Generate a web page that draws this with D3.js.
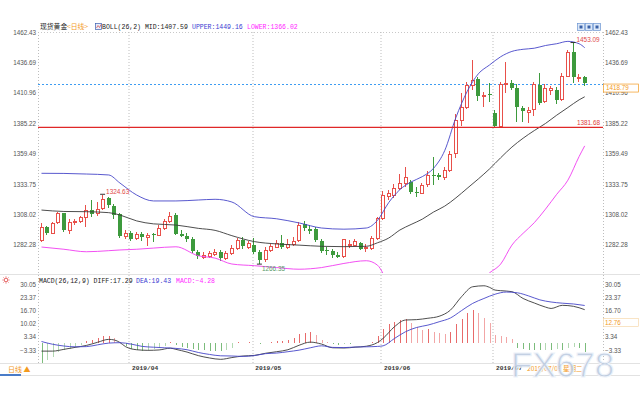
<!DOCTYPE html>
<html>

<head>
  <meta charset="utf-8">
  <title>现货黄金 日线</title>
  <style>
    body { margin: 0; background: #fff; }
    svg { display: block; }
  </style>
</head>

<body>

  <script src="https://d3js.org/d3.v7.min.js" charset="utf-8"></script>
  <script type="text/javascript">
    // trading days shown on the chart: 2019-03-08 .. 2019-07-23 (weekdays)
    var dates = d3.timeDay.range(new Date(2019, 2, 8), new Date(2019, 6, 24))
      .filter(function(d) { return d.getDay() != 0 && d.getDay() != 6; });

    var opens = [1285.8, 1297.5, 1292.5, 1300.9, 1308.8, 1294.8, 1301.6, 1302.6, 1305.6, 1311.7,
      1309.0, 1313.2, 1321.5, 1315.5, 1308.4, 1290.0, 1292.0, 1287.5, 1291.2, 1289.0,
      1291.0, 1291.2, 1296.8, 1302.4, 1307.5, 1291.5, 1289.9, 1287.0, 1276.5, 1272.2,
      1272.8, 1275.1, 1276.0, 1271.0, 1275.5, 1279.5, 1286.0, 1280.0, 1282.0, 1276.5,
      1269.5, 1278.0, 1280.7, 1284.0, 1280.2, 1282.7, 1286.4, 1299.5, 1296.0, 1295.4,
      1285.8, 1278.0, 1277.3, 1274.0, 1272.8, 1282.0, 1282.7, 1283.5, 1279.3, 1279.3,
      1287.8, 1305.0, 1323.0, 1324.4, 1330.1, 1334.4, 1335.7, 1327.0, 1326.4, 1333.8,
      1341.4, 1341.4, 1339.4, 1345.6, 1359.7, 1387.9, 1399.2, 1417.6, 1422.4, 1408.5,
      1410.0, 1394.1, 1383.0, 1418.4, 1419.5, 1414.8, 1397.8, 1395.0, 1397.0, 1417.6,
      1403.4, 1413.5, 1413.3, 1405.8, 1425.4, 1445.8, 1423.8, 1424.1];
    var highs = [1300.5, 1298.5, 1302.0, 1310.3, 1309.5, 1304.2, 1304.5, 1307.0, 1316.0, 1320.0,
      1318.5, 1324.63, 1322.5, 1317.0, 1309.0, 1295.0, 1294.0, 1293.0, 1293.5, 1292.5,
      1292.5, 1299.0, 1304.0, 1310.3, 1309.0, 1294.5, 1292.0, 1288.5, 1278.0, 1276.5,
      1277.0, 1279.0, 1278.0, 1277.0, 1282.5, 1288.0, 1289.0, 1285.5, 1288.0, 1278.0,
      1280.5, 1283.0, 1286.0, 1290.6, 1287.0, 1289.0, 1302.0, 1302.4, 1299.0, 1297.0,
      1287.0, 1280.5, 1278.5, 1276.0, 1287.5, 1286.0, 1287.0, 1285.0, 1283.0, 1290.0,
      1306.0, 1328.0, 1328.7, 1334.0, 1342.0, 1348.4, 1337.0, 1331.0, 1335.0, 1345.0,
      1356.9, 1343.0, 1348.0, 1362.0, 1393.0, 1411.0, 1420.0, 1438.7, 1424.5, 1411.9,
      1419.0, 1396.0, 1420.5, 1437.3, 1421.8, 1418.5, 1400.0, 1399.0, 1420.0, 1427.5,
      1418.0, 1416.5, 1416.0, 1428.0, 1447.0, 1453.09, 1427.0, 1425.0];
    var lows = [1284.5, 1290.8, 1291.5, 1300.0, 1293.5, 1291.4, 1299.0, 1300.5, 1297.0, 1306.0,
      1307.0, 1311.5, 1313.5, 1304.5, 1288.2, 1287.0, 1285.5, 1286.0, 1285.5, 1281.0,
      1285.0, 1289.5, 1295.0, 1301.0, 1290.5, 1288.5, 1285.0, 1275.0, 1270.5, 1270.5,
      1271.5, 1273.0, 1268.5, 1269.5, 1273.5, 1278.0, 1278.5, 1279.0, 1274.5, 1266.35,
      1267.5, 1276.5, 1279.5, 1278.5, 1279.0, 1281.5, 1285.0, 1294.0, 1291.0, 1284.5,
      1275.5, 1274.0, 1270.9, 1271.0, 1271.5, 1279.5, 1281.0, 1277.5, 1276.0, 1277.5,
      1286.5, 1303.5, 1320.2, 1322.0, 1328.5, 1331.0, 1325.5, 1323.0, 1325.0, 1331.0,
      1332.9, 1337.5, 1337.0, 1343.5, 1356.0, 1383.0, 1397.0, 1413.0, 1404.0, 1399.2,
      1403.4, 1381.68, 1382.0, 1410.5, 1413.0, 1386.5, 1386.5, 1385.1, 1391.0, 1400.5,
      1402.0, 1409.0, 1401.5, 1404.0, 1424.0, 1419.0, 1420.5, 1416.5];
    var closes = [1297.1, 1292.5, 1300.9, 1308.8, 1294.8, 1301.9, 1302.6, 1305.6, 1311.5, 1308.4,
      1312.3, 1320.8, 1315.5, 1308.0, 1289.5, 1292.2, 1287.0, 1291.0, 1289.0, 1290.5,
      1290.0, 1296.8, 1302.5, 1307.0, 1291.5, 1289.5, 1287.0, 1276.5, 1272.8, 1273.6,
      1275.6, 1276.5, 1270.5, 1275.5, 1279.5, 1286.0, 1280.5, 1283.5, 1276.0, 1269.5,
      1277.5, 1281.3, 1284.1, 1281.0, 1282.7, 1285.5, 1299.1, 1296.0, 1294.5, 1286.0,
      1277.1, 1277.5, 1273.6, 1272.5, 1287.0, 1283.0, 1285.8, 1278.7, 1280.2, 1287.8,
      1304.7, 1324.4, 1325.9, 1330.1, 1334.4, 1339.4, 1327.2, 1326.5, 1332.9, 1341.4,
      1340.5, 1339.4, 1345.6, 1358.9, 1387.9, 1399.2, 1417.6, 1421.8, 1408.3, 1409.2,
      1409.0, 1383.0, 1418.4, 1419.0, 1415.6, 1398.7, 1395.0, 1396.4, 1418.4, 1402.6,
      1414.8, 1415.0, 1404.9, 1425.4, 1445.8, 1424.6, 1424.6, 1418.79];

    // BOLL(26,2) at these candles
    var bollIdx = [0, 4, 8, 12, 14, 17, 20, 24, 28, 31, 34, 38, 42, 46, 50, 54, 58, 60, 62,
      64, 66, 68, 70, 72, 74, 76, 78, 80, 82, 84, 86, 88, 90, 92, 94, 96, 97];
    var bollUpper = [1342.8, 1342.7, 1342.2, 1341.4, 1334.6, 1324.4, 1319.4, 1319.4, 1320.2, 1320.8,
      1318.5, 1306.1, 1304.3, 1300.8, 1296.5, 1295.5, 1296.5, 1303.0, 1318.0,
      1329.0, 1335.5, 1340.0, 1347.0, 1362.0, 1390.0, 1412.0, 1427.0, 1434.5, 1441.5,
      1446.0, 1447.8, 1448.7, 1451.0, 1452.5, 1454.5, 1452.5, 1449.16];
    var bollMid = [1311.7, 1310.5, 1310.3, 1309.5, 1307.5, 1302.5, 1300.0, 1299.0, 1296.2, 1294.5,
      1290.0, 1285.0, 1283.0, 1282.0, 1281.0, 1280.7, 1281.0, 1284.0, 1288.0,
      1294.8, 1299.5, 1304.0, 1310.0, 1315.0, 1322.0, 1330.0, 1338.0, 1346.5, 1356.0,
      1365.0, 1372.5, 1379.0, 1385.0, 1392.0, 1398.5, 1405.0, 1407.59];
    var bollLower = [1280.4, 1278.5, 1276.4, 1277.3, 1277.9, 1278.5, 1279.5, 1280.6, 1273.0, 1271.0,
      1266.0, 1264.6, 1263.0, 1261.6, 1263.0, 1266.5, 1268.8, 1265.0, 1250.0,
      1244.0, 1240.0, 1238.0, 1236.0, 1236.0, 1238.0, 1242.0, 1250.0, 1258.5, 1266.0,
      1282.0, 1292.0, 1301.0, 1312.5, 1325.0, 1337.0, 1357.0, 1366.02];

    // MACD(26,12,9)
    var diffIdx = [0, 2, 4, 6, 8, 10, 12, 13, 14, 15, 17, 19, 21, 23, 24, 26, 28, 30, 32, 34,
      36, 38, 40, 42, 44, 46, 48, 50, 52, 54, 56, 58, 60, 61, 63, 65, 67, 69, 71, 73,
      75, 77, 79, 80, 81, 82, 84, 86, 88, 90, 91, 93, 95, 97];
    var diffVals = [-3.9, -3.9, -3.0, -2.0, -1.0, 0.6, 2.1, 1.8, 0.5, -1.6, -3.2, -3.5, -3.3, -2.4, -3.0, -4.4, -6.2, -7.4, -8.1, -7.2,
      -6.4, -6.1, -5.0, -4.2, -3.2, -0.9, 0.7, -0.3, -2.2, -2.3, -1.9, -1.4, 0.5, 2.6, 8.5, 12.0, 12.2, 12.9, 13.9, 17.0,
      23.9, 29.0, 29.5, 28.7, 27.3, 27.0, 26.5, 23.0, 20.7, 18.6, 17.9, 19.5, 19.0, 17.29];
    var deaIdx = [0, 2, 4, 6, 8, 10, 12, 14, 16, 18, 20, 22, 24, 26, 28, 30, 32, 34, 36, 38,
      40, 42, 44, 46, 48, 50, 52, 54, 56, 58, 60, 61, 63, 65, 67, 69, 71, 73, 75, 77,
      79, 81, 83, 85, 87, 89, 91, 93, 95, 97];
    var deaVals = [1.0, -0.4, -1.3, -1.7, -1.6, -0.7, 0.2, 0.4, -0.3, -1.5, -1.9, -2.2, -2.5, -3.2, -4.6, -5.6, -6.3, -6.4, -6.6, -6.2,
      -5.2, -4.9, -4.2, -3.4, -2.2, -1.2, -2.0, -2.1, -1.8, -1.7, -1.5, -1.2, 2.5, 6.0, 8.2, 9.4, 11.1, 13.0, 16.8, 20.5,
      23.0, 25.2, 26.3, 25.9, 24.3, 22.3, 21.2, 20.6, 20.2, 19.43];
    var macdBars = [-9.8, -8.4, -6.8, -4.6, -3.4, -2.6, -1.8, -0.8, 1.2, 2.0,
      2.6, 3.6, 3.8, 3.0, 1.0, -1.5, -2.6, -3.2, -3.6, -3.4,
      -3.0, -2.2, -1.2, 0.8, -1.0, -1.6, -2.2, -3.0, -3.2, -3.4,
      -3.6, -3.6, -4.0, -3.2, -2.4, 0.6, 0.4, 0.8, 0.2, -0.3,
      0.4, 0.9, 1.4, 1.5, 1.9, 2.6, 5.0, 5.6, 5.9, 4.3,
      1.8, 0.9, -0.3, -0.6, -0.4, -0.5, 0.3, 0.4, 0.5, 1.0,
      3.8, 7.5, 9.9, 11.1, 12.0, 12.3, 10.6, 8.3, 6.9, 7.2,
      6.0, 5.2, 4.9, 6.0, 9.8, 12.3, 15.4, 17.1, 15.4, 12.9,
      10.3, 4.3, 3.8, 3.5, 2.1, -2.5, -3.0, -3.5, -3.5, -3.5,
      -3.4, -3.5, -3.0, -3.5, -2.5, -2.0, -2.5, -4.28];

    var priceTicks = [1462.43, 1436.69, 1410.96, 1385.22, 1359.49, 1333.75, 1308.02, 1282.28];
    var macdTicks = [30.05, 23.37, 16.70, 10.02, 3.34, -3.33];
    var lastPrice = 1418.79;
    var markLine = 1381.68;
    var macdCursor = 12.76;

    var width = 640, height = 400;
    var left = 38, right = 603;
    var red = "#e8504a", green = "#3d9a3d", blue = "#4646c8", magenta = "#f03cf0", orange = "#f39a1e";
    var mono = '"Liberation Mono", "DejaVu Sans Mono", monospace';
    var cjk = '"Noto Sans CJK SC", sans-serif';

    var svg = d3.select('body')
      .append("svg")
      .attr("width", width)
      .attr("height", height)
      .style("font-family", '"Liberation Sans", Arial, sans-serif');

    var x = d3.scaleBand().domain(d3.range(dates.length)).range([38.7, 38.7 + dates.length * 5.6]);
    function cx(i) { return x(i) + x.bandwidth() / 2; }
    var yP = d3.scaleLinear().domain([1282.28, 1462.43]).range([244.8, 32]);
    var yM = d3.scaleLinear().domain([-3.33, 30.05]).range([350, 284.7]);

    var defs = svg.append("defs");
    defs.append("clipPath").attr("id", "clipP").append("rect")
      .attr("x", left).attr("y", 32).attr("width", right - left).attr("height", 241);
    defs.append("clipPath").attr("id", "clipM").append("rect")
      .attr("x", left).attr("y", 276).attr("width", right - left).attr("height", 87);

    // frame + separators
    svg.append("line").attr("x1", left).attr("x2", right).attr("y1", 32.5).attr("y2", 32.5)
      .attr("stroke", "#c8c8c8").attr("stroke-dasharray", "1,2");
    [274.5, 363.5, 375.5].forEach(function(yy) {
      svg.append("line").attr("x1", 0).attr("x2", width).attr("y1", yy).attr("y2", yy)
        .attr("stroke", "#e2e2e2");
    });
    svg.append("rect").attr("x", 0).attr("y", 374).attr("width", 21).attr("height", 2).attr("fill", "#4a7cc8");

    var monthIdx = d3.range(1, dates.length).filter(function(i) {
      return dates[i].getMonth() != dates[i - 1].getMonth();
    });
    var gridX = [left].concat(monthIdx.map(function(i) { return Math.round(x(i)) + 0.5; })).concat([right]);
    svg.selectAll("line.vgrid").data(gridX).enter().append("line")
      .attr("class", "vgrid")
      .attr("x1", function(d) { return d + 0.5; }).attr("x2", function(d) { return d + 0.5; })
      .attr("y1", 32).attr("y2", 363)
      .attr("stroke", "#bdbdbd").attr("stroke-dasharray", "1,2");

    // axes
    var fmt2 = d3.format(".2f");
    function styleAxis(g) {
      g.select(".domain").remove();
      g.selectAll("text").attr("fill", "#555").style("font-size", "6.3px");
    }
    svg.append("g").attr("transform", "translate(" + left + ",0)")
      .call(d3.axisLeft(yP).tickValues(priceTicks).tickFormat(fmt2).tickSize(0).tickPadding(2))
      .call(styleAxis);
    svg.append("g").attr("transform", "translate(" + right + ",0)")
      .call(d3.axisRight(yP).tickValues(priceTicks).tickFormat(fmt2).tickSize(0).tickPadding(2))
      .call(styleAxis);
    svg.append("g").attr("transform", "translate(" + left + ",0)")
      .call(d3.axisLeft(yM).tickValues(macdTicks).tickFormat(fmt2).tickSize(0).tickPadding(2))
      .call(styleAxis);
    // on the right the 10.02 label sits under the cursor value box
    svg.append("g").attr("transform", "translate(" + right + ",0)")
      .call(d3.axisRight(yM).tickValues(macdTicks.filter(function(t) { return t != 10.02; }))
        .tickFormat(fmt2).tickSize(0).tickPadding(2))
      .call(styleAxis);

    var monthFmt = d3.timeFormat("%Y/%m");
    svg.append("g").attr("transform", "translate(0,363)")
      .call(d3.axisBottom(x).tickValues(monthIdx).tickFormat(function(i) { return monthFmt(dates[i]); })
        .tickSize(0).tickPadding(3))
      .call(function(g) {
        g.select(".domain").remove();
        g.selectAll("text").attr("text-anchor", "start").attr("x", 1)
          .attr("fill", "#333").style("font-family", mono).style("font-weight", "bold").style("font-size", "6.2px");
      });

    // price panel
    var gP = svg.append("g").attr("clip-path", "url(#clipP)");

    gP.append("line").attr("x1", left).attr("x2", right)
      .attr("y1", Math.round(yP(lastPrice)) + 0.5).attr("y2", Math.round(yP(lastPrice)) + 0.5)
      .attr("stroke", "#3d9cf2").attr("stroke-dasharray", "2,2").attr("shape-rendering", "crispEdges");

    var candles = dates.map(function(d, i) {
      return { i: i, o: opens[i], h: highs[i], l: lows[i], c: closes[i] };
    });
    var cg = gP.selectAll("g.candle").data(candles).enter().append("g")
      .attr("class", "candle").attr("shape-rendering", "crispEdges");
    cg.append("line")
      .attr("x1", function(d) { return Math.round(cx(d.i) - 2) + 1.5; })
      .attr("x2", function(d) { return Math.round(cx(d.i) - 2) + 1.5; })
      .attr("y1", function(d) { return yP(d.h); })
      .attr("y2", function(d) { return yP(d.l); })
      .attr("stroke", function(d) { return d.c >= d.o ? red : green; });
    cg.append("rect")
      .attr("x", function(d) { var r = Math.round(cx(d.i) - 2); return d.c >= d.o ? r + 0.5 : r; })
      .attr("y", function(d) { return Math.round(yP(Math.max(d.o, d.c))) + (d.c >= d.o ? 0.5 : 0); })
      .attr("width", function(d) { return d.c >= d.o ? 3 : 4; })
      .attr("height", function(d) { return Math.max(1, Math.round(Math.abs(yP(d.o) - yP(d.c)))); })
      .attr("fill", function(d) { return d.c >= d.o ? "#fff" : green; })
      .attr("stroke", function(d) { return d.c >= d.o ? red : "none"; });

    var bandLine = d3.line()
      .x(function(d) { return cx(d.i); })
      .y(function(d) { return yP(d.v); })
      .curve(d3.curveMonotoneX);
    function pts(idx, vals) { return idx.map(function(i, k) { return { i: i, v: vals[k] }; }); }
    gP.append("path").datum(pts(bollIdx, bollMid)).attr("d", bandLine)
      .attr("fill", "none").attr("stroke", "#3a3a3a").attr("stroke-width", 0.9);
    gP.append("path").datum(pts(bollIdx, bollUpper)).attr("d", bandLine)
      .attr("fill", "none").attr("stroke", blue).attr("stroke-width", 0.9);
    gP.append("path").datum(pts(bollIdx, bollLower)).attr("d", bandLine)
      .attr("fill", "none").attr("stroke", magenta).attr("stroke-width", 0.9);

    // marked level
    svg.append("line").attr("x1", left).attr("x2", right)
      .attr("y1", yP(markLine)).attr("y2", yP(markLine))
      .attr("stroke", "#e02828").attr("stroke-width", 1.4);
    svg.append("text").attr("x", 600).attr("y", yP(markLine) - 2).attr("text-anchor", "end")
      .attr("fill", "#e04040").style("font-size", "6.4px").text(fmt2(markLine));

    // high / low marks
    var hiIdx = [11, 95], loIdx = [39];
    hiIdx.forEach(function(i) {
      svg.append("line").attr("x1", cx(i) - 3).attr("x2", cx(i) + 2).attr("y1", yP(highs[i]) - 0.5).attr("y2", yP(highs[i]) - 0.5)
        .attr("stroke", "#333");
      svg.append("text").attr("x", cx(i) + 3).attr("y", yP(highs[i]) - 1)
        .attr("fill", "#e04848").style("font-size", "6.4px").text(fmt2(highs[i]));
    });
    loIdx.forEach(function(i) {
      svg.append("line").attr("x1", cx(i) - 3).attr("x2", cx(i) + 2).attr("y1", yP(lows[i]) + 0.5).attr("y2", yP(lows[i]) + 0.5)
        .attr("stroke", "#333");
      svg.append("text").attr("x", cx(i) + 2).attr("y", yP(lows[i]) + 7)
        .attr("fill", "#5a9a6a").style("font-size", "6.4px").text(fmt2(lows[i]));
    });

    // last price box
    svg.append("rect").attr("x", 603.5).attr("y", yP(lastPrice) + 0.5).attr("width", 35).attr("height", 8)
      .attr("fill", "#fff").attr("stroke", orange).attr("stroke-width", 0.7);
    svg.append("text").attr("x", 606).attr("y", yP(lastPrice) + 6.8)
      .attr("fill", orange).style("font-size", "6.3px").text(fmt2(lastPrice));

    // MACD panel
    var gM = svg.append("g").attr("clip-path", "url(#clipM)");
    gM.selectAll("line.bar").data(macdBars).enter().append("line")
      .attr("class", "bar").attr("shape-rendering", "crispEdges")
      .attr("x1", function(d, i) { return Math.round(cx(i)) + 0.5; })
      .attr("x2", function(d, i) { return Math.round(cx(i)) + 0.5; })
      .attr("y1", yM(0))
      .attr("y2", function(d) { return yM(d); })
      .attr("stroke", function(d, i) {
        var weaker = i > 0 && Math.abs(d) < Math.abs(macdBars[i - 1]) && (d > 0) == (macdBars[i - 1] > 0);
        if (d >= 0) return weaker ? "#f2a6a6" : "#e86a6a";
        return weaker ? "#b2d8b2" : "#7cbc7c";
      });
    var macdLine = d3.line()
      .x(function(d) { return cx(d.i); })
      .y(function(d) { return yM(d.v); })
      .curve(d3.curveMonotoneX);
    gM.append("path").datum(pts(diffIdx, diffVals)).attr("d", macdLine)
      .attr("fill", "none").attr("stroke", "#3a3a3a").attr("stroke-width", 0.9);
    gM.append("path").datum(pts(deaIdx, deaVals)).attr("d", macdLine)
      .attr("fill", "none").attr("stroke", blue).attr("stroke-width", 0.9);

    // cursor value box, placed over the 10.02 tick
    var cursorY = yM(10.02) - 1;
    svg.append("rect").attr("x", 603.5).attr("y", cursorY - 4.5).attr("width", 35).attr("height", 8)
      .attr("fill", "#fff").attr("stroke", "#f6d2a0").attr("stroke-width", 0.6);
    svg.append("text").attr("x", 605).attr("y", cursorY + 2.2)
      .attr("fill", orange).style("font-size", "6.3px").text(fmt2(macdCursor));

    // legends
    var lg = svg.append("g").style("font-size", "6.5px");
    lg.append("text").attr("x", 40).attr("y", 29).style("font-family", cjk).style("font-size", "6.8px")
      .attr("fill", "#222").text("现货黄金");
    lg.append("text").attr("x", 67).attr("y", 29).style("font-family", cjk).style("font-size", "6.8px")
      .attr("fill", orange).text("<日线>");
    lg.append("rect").attr("x", 95.5).attr("y", 23.5).attr("width", 6).attr("height", 6)
      .attr("fill", "#e8eefa").attr("stroke", "#3c5fb0").attr("stroke-width", 0.7);
    lg.append("path").attr("d", "M96.5,28 L98,25.5 L99.5,27.5 L101,24.5").attr("fill", "none")
      .attr("stroke", "#d03030").attr("stroke-width", 0.6);
    lg.append("text").attr("x", 102).attr("y", 29).style("font-family", mono).attr("fill", "#222")
      .text("BOLL(26,2) MID:" + fmt2(bollMid[bollMid.length - 1]));
    lg.append("text").attr("x", 192).attr("y", 29).style("font-family", mono).attr("fill", "#3c3cd2")
      .text("UPPER:" + fmt2(bollUpper[bollUpper.length - 1]));
    lg.append("text").attr("x", 247).attr("y", 29).style("font-family", mono).attr("fill", "#ff28ff")
      .text("LOWER:" + fmt2(bollLower[bollLower.length - 1]));

    lg.append("text").attr("x", 39).attr("y", 282.5).style("font-family", mono).attr("fill", "#222")
      .text("MACD(26,12,9) DIFF:" + fmt2(diffVals[diffVals.length - 1]));
    lg.append("text").attr("x", 136).attr("y", 282.5).style("font-family", mono).attr("fill", "#3c3cd2")
      .text("DEA:" + fmt2(deaVals[deaVals.length - 1]));
    lg.append("text").attr("x", 176).attr("y", 282.5).style("font-family", mono).attr("fill", "#ff28ff")
      .text("MACD:" + fmt2(macdBars[macdBars.length - 1]));

    // little gear icon at the MACD panel
    var ic = svg.append("g").attr("transform", "translate(6,280)").attr("stroke", "#e04040").attr("fill", "none");
    ic.append("circle").attr("r", 1.8).attr("stroke-width", 0.8);
    d3.range(8).forEach(function(k) {
      var a = k * Math.PI / 4;
      ic.append("line").attr("x1", Math.cos(a) * 2.4).attr("y1", Math.sin(a) * 2.4)
        .attr("x2", Math.cos(a) * 3.6).attr("y2", Math.sin(a) * 3.6).attr("stroke-width", 0.7);
    });

    // top right buttons
    [577, 585, 593].forEach(function(bx) {
      svg.append("rect").attr("x", bx + 0.5).attr("y", 23.5).attr("width", 7).attr("height", 7)
        .attr("fill", "#dce8f8").attr("stroke", "#6b94d2").attr("stroke-width", 0.7);
      svg.append("rect").attr("x", bx + 2.5).attr("y", 25.5).attr("width", 3).attr("height", 3)
        .attr("fill", "#3b62a8");
    });

    // bottom strip
    svg.append("text").attr("x", 8).attr("y", 372).style("font-family", cjk).style("font-size", "7px")
      .attr("fill", orange).text("日线 ▲");
    svg.append("text").attr("x", 527).attr("y", 371).style("font-family", cjk).style("font-size", "6.6px")
      .attr("fill", orange).text("2019/07/09 星期二");

    // watermark
    svg.append("text").attr("x", 511).attr("y", 377)
      .style("font-size", "35px").style("font-family", '"Liberation Sans", Arial, sans-serif')
      .attr("fill", "#b9c8de").attr("fill-opacity", 0.85)
      .attr("stroke", "#eef3fa").attr("stroke-width", 1)
      .text("FX678");
  </script>
</body>

</html>
